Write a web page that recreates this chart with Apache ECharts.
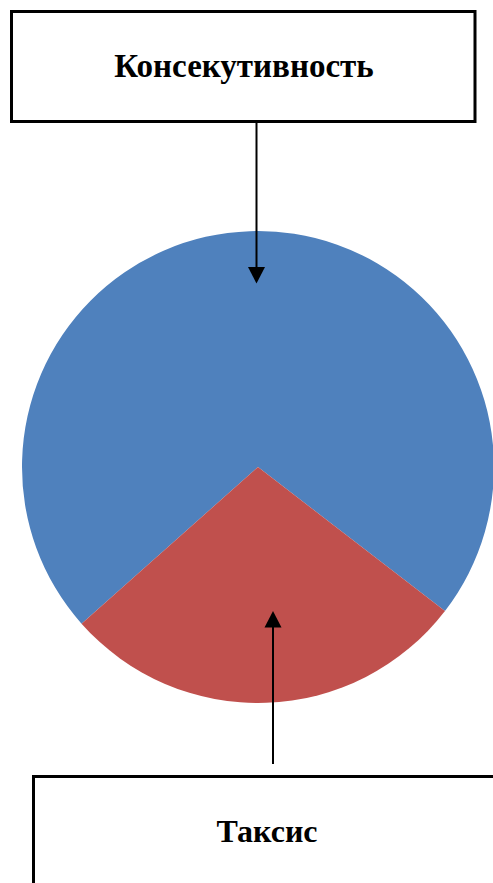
<!DOCTYPE html>
<html><head><meta charset="utf-8">
<script src="https://cdn.jsdelivr.net/npm/echarts@6/dist/echarts.min.js"></script>
<style>html,body{margin:0;padding:0;background:#fff}#c{width:493px;height:883px}</style>
</head><body><div id="c"></div>
<script>
const categories = ['Консекутивность', 'Таксис'];
const values = [72, 28];
const colors = ['#4F81BD', '#C0504D'];

const chart = echarts.init(document.getElementById('c'), null, {renderer: 'svg'});
const font = '"Liberation Serif", "Times New Roman", serif';
chart.setOption({
  animation: false,
  series: [{
    type: 'pie',
    z: 1,
    center: [258, 467],
    radius: [0, 236],
    startAngle: 221.6,
    clockwise: true,
    label: {show: false},
    labelLine: {show: false},
    itemStyle: {borderWidth: 0},
    emphasis: {disabled: true},
    data: categories.map((n, i) => ({name: n, value: values[i], itemStyle: {color: colors[i]}}))
  }],
  graphic: {
    elements: [
      {type: 'rect', z: 100, shape: {x: 11.5, y: 11.5, width: 463.5, height: 110}, style: {fill: '#fff', stroke: '#000', lineWidth: 3}},
      {type: 'text', z: 101, x: 244, y: 66, style: {text: categories[0], font: 'bold 33px ' + font, fill: '#000', align: 'center', verticalAlign: 'middle'}},
      {type: 'line', z: 100, shape: {x1: 256.5, y1: 122, x2: 256.5, y2: 268}, style: {stroke: '#000', lineWidth: 2}},
      {type: 'polygon', z: 100, shape: {points: [[248, 267], [265, 267], [256.5, 283.5]]}, style: {fill: '#000'}},
      {type: 'line', z: 100, shape: {x1: 273, y1: 764, x2: 273, y2: 626}, style: {stroke: '#000', lineWidth: 2}},
      {type: 'polygon', z: 100, shape: {points: [[264.5, 627.5], [281.5, 627.5], [273, 611]]}, style: {fill: '#000'}},
      {type: 'rect', z: 100, shape: {x: 33.5, y: 776.5, width: 480, height: 130}, style: {fill: '#fff', stroke: '#000', lineWidth: 3}},
      {type: 'text', z: 101, x: 267, y: 831, style: {text: categories[1], font: 'bold 32px ' + font, fill: '#000', align: 'center', verticalAlign: 'middle'}}
    ]
  }
});
</script></body></html>
